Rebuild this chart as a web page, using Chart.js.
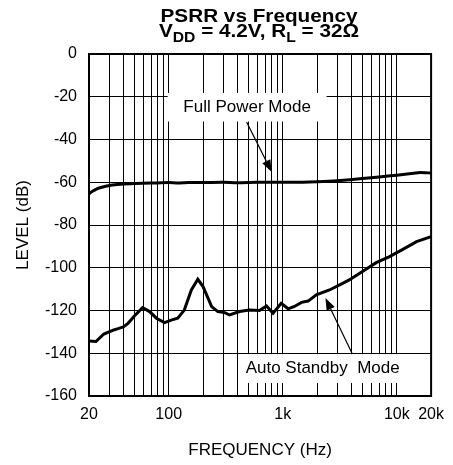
<!DOCTYPE html>
<html>
<head>
<meta charset="utf-8">
<script src="https://cdn.jsdelivr.net/npm/chart.js@4.4.1/dist/chart.umd.min.js"></script>
<style>
  html, body { margin: 0; padding: 0; background: #fff; }
  #wrap { width: 453px; height: 465px; }
</style>
</head>
<body>
<div id="wrap"><canvas id="psrrChart"></canvas></div>
<script>
// Full power mode PSRR (Hz, dB)
const fullFreq = [20, 21, 23, 25, 28, 32, 40, 50, 70, 100, 120, 150, 200, 300, 400, 600, 1000, 1500, 2000, 3000, 5000, 7000, 10000, 14000, 16000, 20000];
const fullLevel = [-65.5, -64.5, -63.3, -62.6, -61.9, -61.3, -60.8, -60.6, -60.4, -60.1, -60.3, -60.1, -60.1, -60.0, -60.2, -60.0, -60.0, -60.0, -59.8, -59.3, -58.3, -57.5, -56.7, -55.8, -55.4, -55.7];

// Auto standby mode PSRR (Hz, dB)
const standbyFreq = [20, 23, 27, 33, 36, 40, 44, 50, 59, 68, 78, 92, 105, 120, 137, 158, 180, 200, 238, 270, 310, 342, 418, 510, 625, 720, 822, 970, 1115, 1267, 1460, 1670, 1970, 2570, 3350, 3830, 5000, 6600, 8640, 11300, 14900, 20000];
const standbyLevel = [-134.3, -134.5, -131.0, -129.1, -128.5, -127.7, -126.0, -122.6, -118.7, -120.5, -123.6, -125.7, -124.5, -123.6, -119.8, -110.4, -105.4, -108.8, -118.2, -120.5, -121.0, -122.1, -120.5, -119.8, -120.0, -117.9, -121.3, -116.6, -119.2, -118.1, -116.2, -115.6, -112.7, -110.4, -107.3, -105.7, -101.8, -97.6, -94.8, -91.4, -87.8, -85.5];

// Axis grid and labels
const freqGrid = [20, 30, 40, 50, 60, 70, 80, 90, 100, 200, 300, 400, 500, 600, 700, 800, 900,
  1000, 2000, 3000, 4000, 5000, 6000, 7000, 8000, 9000, 10000, 20000];
const freqLabelValues = [20, 100, 1000, 10000, 20000];
const freqLabelText = ['20', '100', '1k', '10k', '20k'];
const levelMin = -160;
const levelMax = 0;

const FONT = 'Liberation Sans, Arial, Helvetica, sans-serif';

const toPoints = (xs, ys) => xs.map((x, i) => ({ x: x, y: ys[i] }));

// Callout boxes with arrows, in data units
const callouts = [
  { text: 'Full Power Mode', box: [98, 2420, -18.2, -31.6], from: [482, -31.8], to: [800, -55.2] },
  { text: 'Auto Standby  Mode', box: [425, 11800, -140.4, -153.9], from: [4080, -140.4], to: [2370, -114.2] }
];

const headerPlugin = {
  id: 'header',
  afterDraw(chart) {
    const ctx = chart.ctx;
    const cx = 259;
    const sx = 1.12; // title glyphs run a little wide
    ctx.save();
    ctx.fillStyle = '#000';
    ctx.textBaseline = 'alphabetic';
    ctx.textAlign = 'left';
    ctx.translate(cx, 0);
    ctx.scale(sx, 1);
    ctx.font = 'bold 18.5px ' + FONT;
    const line1 = 'PSRR vs Frequency';
    ctx.fillText(line1, -ctx.measureText(line1).width / 2, 21.5);

    // second line with subscripts
    const parts = [
      { t: 'V' }, { t: 'DD', sub: true }, { t: ' = 4.2V, R' }, { t: 'L', sub: true }, { t: ' = 32\u03A9' }
    ];
    const mainFont = 'bold 18.5px ' + FONT;
    const subFont = 'bold 14px ' + FONT;
    let total = 0;
    parts.forEach(p => {
      ctx.font = p.sub ? subFont : mainFont;
      p.w = ctx.measureText(p.t).width;
      total += p.w;
    });
    let x = -total / 2;
    parts.forEach(p => {
      ctx.font = p.sub ? subFont : mainFont;
      ctx.fillText(p.t, x, p.sub ? 42 : 37);
      x += p.w;
    });
    ctx.restore();
  }
};

const calloutPlugin = {
  id: 'callouts',
  beforeDatasetsDraw(chart) {
    const { ctx, scales: { x, y } } = chart;
    ctx.save();
    callouts.forEach(c => {
      const x0 = x.getPixelForValue(c.box[0]);
      const x1 = x.getPixelForValue(c.box[1]);
      const y0 = y.getPixelForValue(c.box[2]);
      const y1 = y.getPixelForValue(c.box[3]);
      ctx.fillStyle = '#fff';
      ctx.fillRect(x0, y0, x1 - x0, y1 - y0);
      ctx.fillStyle = '#000';
      ctx.font = '17px ' + FONT;
      ctx.textAlign = 'center';
      ctx.textBaseline = 'middle';
      ctx.fillText(c.text, (x0 + x1) / 2, (y0 + y1) / 2);

      // arrow
      const ax = x.getPixelForValue(c.from[0]);
      const ay = y.getPixelForValue(c.from[1]);
      const bx = x.getPixelForValue(c.to[0]);
      const by = y.getPixelForValue(c.to[1]);
      const ang = Math.atan2(by - ay, bx - ax);
      const headLen = 12, headW = 4.5;
      const hx = bx - headLen * Math.cos(ang);
      const hy = by - headLen * Math.sin(ang);
      ctx.strokeStyle = '#000';
      ctx.lineWidth = 1.2;
      ctx.beginPath();
      ctx.moveTo(ax, ay);
      ctx.lineTo(hx, hy);
      ctx.stroke();
      ctx.beginPath();
      ctx.moveTo(bx, by);
      ctx.lineTo(hx - headW * Math.sin(ang), hy + headW * Math.cos(ang));
      ctx.lineTo(hx + headW * Math.sin(ang), hy - headW * Math.cos(ang));
      ctx.closePath();
      ctx.fill();
    });
    ctx.restore();
  },
  afterDatasetsDraw(chart) {
    const { ctx, chartArea: a } = chart;
    ctx.save();
    ctx.strokeStyle = '#000';
    ctx.lineWidth = 2;
    ctx.strokeRect(a.left, a.top, a.right - a.left, a.bottom - a.top);
    ctx.restore();
  }
};

const config = {
  type: 'scatter',
  data: {
    datasets: [
      {
        label: 'Full Power Mode',
        data: toPoints(fullFreq, fullLevel),
        showLine: true,
        borderColor: '#000',
        borderWidth: 3,
        pointRadius: 0,
        tension: 0.2
      },
      {
        label: 'Auto Standby Mode',
        data: toPoints(standbyFreq, standbyLevel),
        showLine: true,
        borderColor: '#000',
        borderWidth: 3,
        pointRadius: 0,
        tension: 0
      }
    ]
  },
  options: {
    responsive: true,
    maintainAspectRatio: false,
    animation: false,
    layout: { padding: { top: 54, right: 21, left: 0, bottom: 0 } },
    plugins: {
      legend: { display: false },
      tooltip: { enabled: false }
    },
    scales: {
      x: {
        type: 'logarithmic',
        min: 20,
        max: 20000,
        afterBuildTicks(scale) {
          scale.ticks = freqGrid.map(v => ({ value: v }));
        },
        afterFit(scale) { scale.height = 69; },
        grid: { color: '#000', lineWidth: 1, drawTicks: false },
        border: { color: '#000', width: 2 },
        ticks: {
          autoSkip: false,
          maxRotation: 0,
          padding: 9,
          color: '#000',
          font: { family: FONT, size: 16 },
          callback(value) {
            const i = freqLabelValues.indexOf(value);
            return i >= 0 ? freqLabelText[i] : '';
          }
        },
        title: {
          display: true,
          text: 'FREQUENCY (Hz)',
          color: '#000',
          font: { family: FONT, size: 17 },
          padding: { top: 0, bottom: 4 }
        }
      },
      y: {
        min: levelMin,
        max: levelMax,
        afterFit(scale) { scale.width = 89; },
        grid: { color: '#000', lineWidth: 1, drawTicks: false },
        border: { color: '#000', width: 2 },
        ticks: {
          stepSize: 10,
          padding: 12,
          color: '#000',
          font: { family: FONT, size: 16 },
          callback(value) {
            return value % 20 === 0 ? String(value) : '';
          }
        },
        title: {
          display: true,
          text: 'LEVEL (dB)',
          color: '#000',
          font: { family: FONT, size: 17 },
          padding: { top: 13, bottom: 0 }
        }
      }
    }
  },
  plugins: [headerPlugin, calloutPlugin]
};

const psrrChart = new Chart(document.getElementById('psrrChart'), config);
</script>
</body>
</html>
